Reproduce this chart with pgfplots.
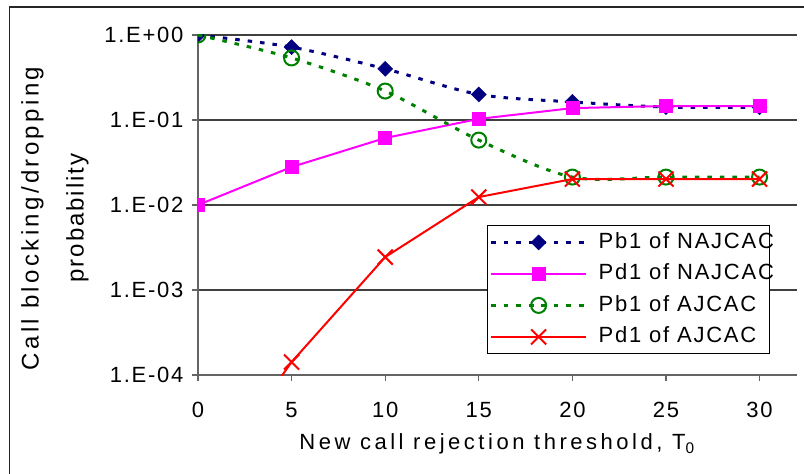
\documentclass[border=0pt]{standalone}
\usepackage{fontspec}
\setmainfont{Liberation Sans}[LetterSpace=8]
\newfontfamily\xlabfont{Liberation Sans}[LetterSpace=16]
\newfontfamily\ylabfont{Liberation Sans}[LetterSpace=14]
\usepackage{pgfplots}
\pgfplotsset{compat=1.18}
\definecolor{navyc}{RGB}{0,0,128}
\definecolor{magc}{RGB}{255,0,255}
\definecolor{grnc}{RGB}{0,128,0}
\definecolor{redc}{RGB}{255,0,0}
\definecolor{gridc}{RGB}{64,64,64}
\definecolor{axc}{RGB}{100,100,100}
\begin{document}
\begin{tikzpicture}[x=1pt,y=1pt]
\useasboundingbox (0,0) rectangle (804,474);
\draw[line width=1.6pt, black!85] (9.5,-5) -- (9.5,467) -- (812,467);
\begin{axis}[
  at={(198pt,99pt)}, anchor=south west,
  width=599pt, height=340pt, scale only axis,
  ymode=log, xmin=0, xmax=32, ymin=1e-4, ymax=1,
  axis x line*=bottom, axis y line*=left,
  axis line style={axc, line width=1.2pt, -},
  xtick={0,5,10,15,20,25,30},
  ytick={1e-4,1e-3,1e-2,1e-1,1},
  yticklabels={1.E-04,1.E-03,1.E-02,1.E-01,1.E+00},
  minor ytick={}, yminorticks=false,
  tick align=outside, major tick length=6pt,
  tick style={axc, line width=1.2pt},
  ymajorgrids, grid style={gridc, line width=1.2pt},
  /pgf/number format/assume math mode=true,
  ticklabel style={font=\fontsize{22}{26}\selectfont},
  xticklabel style={yshift=-18pt},
  yticklabel style={xshift=-5pt},
  clip marker paths=true,
  legend style={at={(axis description cs:0.4825,0.441)}, anchor=north west,
    draw=black, line width=1.2pt, inner xsep=2pt, inner ysep=1pt,
    font=\fontsize{22}{26}\selectfont,
    nodes={text height=16.5pt, text depth=5pt, inner ysep=5pt, inner xsep=4pt}},
  legend cell align=left,
  legend image code/.code={\draw[mark repeat=2,mark phase=2,#1] plot coordinates {(0pt,0pt) (47.5pt,0pt) (95pt,0pt)};},
]
\addplot[navyc, line width=3pt, dash pattern=on 4.5pt off 8pt, smooth, tension=0.5,
  mark=square*, mark size=5.3pt, mark options={solid, rotate=45, fill=navyc, line width=0.5pt}]
  coordinates {(0,1) (5,0.72) (10,0.40) (15,0.20) (20,0.163) (25,0.142) (30,0.141)};
\addlegendentry{\makebox[172pt][l]{\hspace*{7pt}Pb1 of NAJCAC}}
\addplot[magc, line width=2pt,
  mark=square*, mark size=6.5pt, mark options={solid, fill=magc, line width=0.5pt}]
  coordinates {(0,0.01) (5,0.028) (10,0.0614) (15,0.103) (20,0.138) (25,0.146) (30,0.146)};
\addlegendentry{\makebox[172pt][l]{\hspace*{7pt}Pd1 of NAJCAC}}
\addplot[grnc, line width=3pt, dash pattern=on 4.5pt off 8pt, smooth, tension=0.5,
  mark=o, mark size=7.5pt, mark options={solid, line width=2pt}]
  coordinates {(0,1) (5,0.537) (10,0.219) (15,0.058) (20,0.0213) (25,0.0213) (30,0.0213)};
\addlegendentry{\makebox[172pt][l]{\hspace*{7pt}Pb1 of AJCAC}}
\addplot[redc, line width=2pt,
  mark=x, mark size=10.6pt, mark options={solid, line width=2pt}]
  coordinates {(0,4e-6) (5,1.42e-4) (10,2.44e-3) (15,0.0124) (20,0.0202) (25,0.0202) (30,0.0202)};
\addlegendentry{\makebox[172pt][l]{\hspace*{7pt}Pd1 of AJCAC}}
\end{axis}
\node[rotate=90, anchor=base, font=\ylabfont\fontsize{24}{28}\selectfont] at (38.5,255.5) {Call blocking/dropping};
\node[rotate=90, anchor=base, font=\fontsize{24}{28}\selectfont] at (83.5,256) {probability};
\node[anchor=base, font=\xlabfont\fontsize{22}{26}\selectfont] at (497,24) {New call rejection threshold, T\textsubscript{0}};
\end{tikzpicture}
\end{document}
